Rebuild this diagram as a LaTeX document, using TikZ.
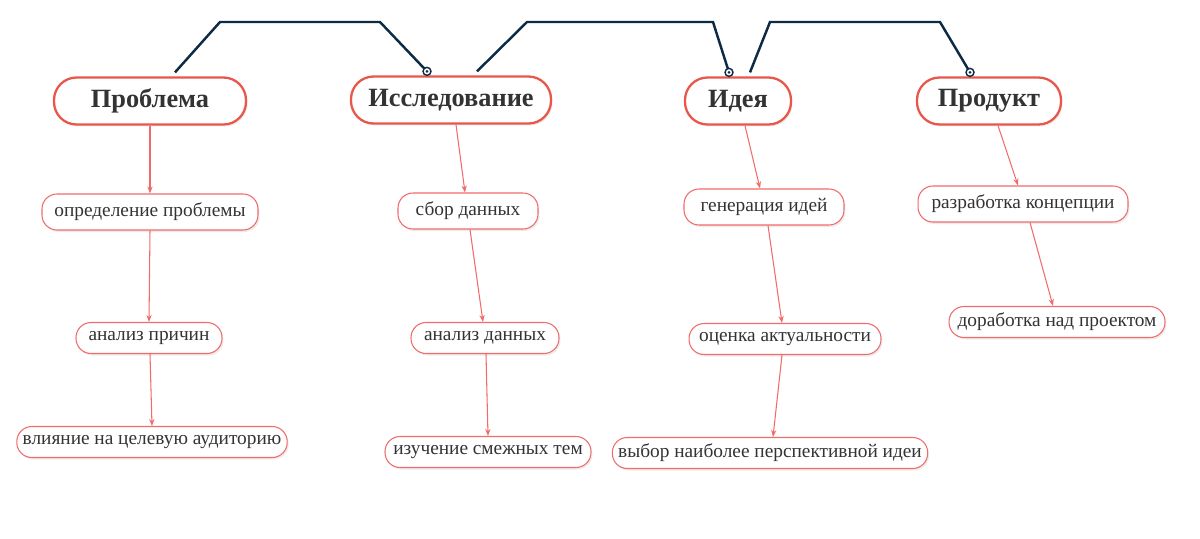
\documentclass[tikz,border=0pt]{standalone}
\usepackage{fontspec}
\setmainfont{Liberation Serif}
\usetikzlibrary{shadows,arrows.meta,calc}
\definecolor{mainred}{HTML}{E8574A}
\definecolor{subred}{HTML}{F26B6B}
\definecolor{navy}{HTML}{0D2B45}
\definecolor{txt}{HTML}{333333}
\tikzset{
 x=0.02cm,y=-0.02cm,
 mainbox/.style={draw=mainred,line width=1.3pt,rounded corners=0.45cm,fill=white,minimum height=0.94cm,text=txt,font=\bfseries\fontsize{15}{15}\selectfont,drop shadow={opacity=0.15,shadow xshift=0.03cm,shadow yshift=-0.04cm}},
 subbox/.style={draw=subred,line width=0.6pt,rounded corners=0.3cm,fill=white,minimum height=0.62cm,text=txt,font=\fontsize{11}{11}\selectfont,drop shadow={opacity=0.15,shadow xshift=0.03cm,shadow yshift=-0.04cm}},
 link/.style={draw=subred,line width=0.6pt,-{Stealth[length=4pt,width=3pt]}},
 top/.style={draw=navy,line width=1.4pt},
 endc/.style={draw=navy,line width=0.8pt,fill=white}
}
\begin{document}
\begin{tikzpicture}
\fill[white] (0,0) rectangle (1200,538);
\node[mainbox,minimum width=3.84cm] (p) at (150,101) {Проблема};
\node[mainbox,minimum width=4.0cm] (r) at (451,100) {Исследование};
\node[mainbox,minimum width=2.12cm] (i) at (738,101) {Идея};
\node[mainbox,minimum width=2.88cm] (d) at (989,101) {Продукт};

\node[subbox,minimum width=4.32cm,minimum height=0.72cm] (p1) at (150,212) {определение проблемы};
\node[subbox,minimum width=2.92cm] (p2) at (149,338) {анализ причин};
\node[subbox,minimum width=5.16cm] (p3) at (152,442) {влияние на целевую аудиторию};
\node[subbox,minimum width=2.8cm,minimum height=0.72cm] (r1) at (468,211) {сбор данных};
\node[subbox,minimum width=2.96cm] (r2) at (485,338) {анализ данных};
\node[subbox,minimum width=4.12cm] (r3) at (488,452) {изучение смежных тем};
\node[subbox,minimum width=3.2cm,minimum height=0.72cm] (i1) at (764,207) {генерация идей};
\node[subbox,minimum width=3.84cm] (i2) at (785,339) {оценка актуальности};
\node[subbox,minimum width=6.2cm] (i3) at (770,453) {выбор наиболее перспективной идеи};
\node[subbox,minimum width=4.2cm,minimum height=0.72cm] (d1) at (1023,204) {разработка концепции};
\node[subbox,minimum width=4.32cm] (d2) at (1057,322) {доработка над проектом};

\draw[link] (p.south) -- (p1.north);
\draw[link] ($(r.south)+(5,0)$) -- ($(r1.north)+(-3,0)$);
\draw[link] ($(i.south)+(7,0)$) -- ($(i1.north)+(-4,0)$);
\draw[link] ($(d.south)+(9,0)$) -- ($(d1.north)+(-5,0)$);
\draw[link] (p1.south) -- (p2.north);
\draw[link] ($(r1.south)+(2,0)$) -- ($(r2.north)+(-2,0)$);
\draw[link] ($(i1.south)+(4,0)$) -- ($(i2.north)+(-3,0)$);
\draw[link] ($(d1.south)+(7,0)$) -- ($(d2.north)+(-4,0)$);
\draw[link] ($(p2.south)+(1,0)$) -- (p3.north);
\draw[link] ($(r2.south)+(1,0)$) -- (r3.north);
\draw[link] ($(i2.south)+(-3,0)$) -- ($(i3.north)+(3,0)$);

\coordinate (a1) at ($(p.north)+(25,-4)$);
\coordinate (a2) at ($(r.north)+(-24,-4)$);
\coordinate (b1) at ($(r.north)+(26,-4)$);
\coordinate (b2) at ($(i.north)+(-9,-4)$);
\coordinate (c1) at ($(i.north)+(12,-4)$);
\coordinate (c2) at ($(d.north)+(-19,-4)$);
\draw[top] (a1) -- (220,22) -- (380,22) -- (a2);
\draw[top] (b1) -- (527,22) -- (713,22) -- (b2);
\draw[top] (c1) -- (770,22) -- (940,22) -- (c2);
\foreach \c in {a2,b2,c2}{
 \draw[endc] (\c) circle (0.08cm);
 \fill[navy] (\c) circle (0.03cm);
}
\end{tikzpicture}
\end{document}
